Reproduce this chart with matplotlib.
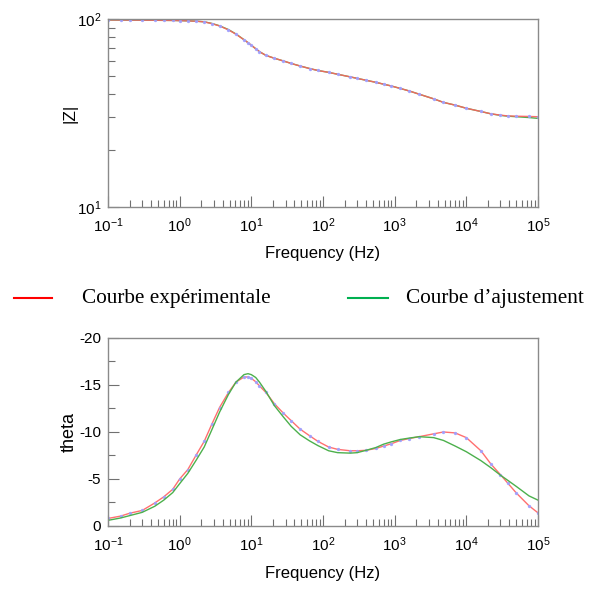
import matplotlib
matplotlib.use('Agg')
from matplotlib import pyplot as plt
from matplotlib.lines import Line2D
from matplotlib.ticker import LogLocator, MultipleLocator, NullFormatter, FormatStrFormatter

plt.rcParams['font.family'] = ['Liberation Sans', 'DejaVu Sans']
plt.rcParams['mathtext.fontset'] = 'custom'
plt.rcParams['mathtext.rm'] = 'Liberation Sans'
plt.rcParams['axes.unicode_minus'] = False

# frequences (Hz)
freq = [0.1, 0.15, 0.2, 0.3, 0.45, 0.6, 0.8, 1, 1.3, 1.7, 2.2, 2.8, 3.6, 4.8, 6.1, 7.9, 9,
        10, 11.5, 13, 16, 21, 28, 36, 48, 65, 85, 120, 160, 240, 300, 400, 550, 700, 900,
        1200, 1600, 2200, 3500, 4800, 7000, 10000, 16000, 22000, 30000, 38000, 50000,
        75000, 100000]

# module |Z|
z_exp = [98.8, 98.7, 98.6, 98.5, 98.4, 98.3, 98.2, 98.0, 97.7, 97.3, 96.5, 94.5, 91.8, 87.5,
         83.0, 77.5, 74.8, 72.5, 69.5, 67.0, 64.0, 61.8, 59.8, 58.0, 56.2, 54.5, 53.2, 52.0,
         50.8, 49.2, 48.3, 47.2, 46.0, 45.0, 44.0, 42.7, 41.4, 39.8, 37.6, 36.0, 34.8, 33.5,
         32.2, 31.3, 30.8, 30.5, 30.4, 30.3, 30.2]
z_fit = [98.8, 98.7, 98.6, 98.5, 98.4, 98.3, 98.2, 98.0, 97.7, 97.3, 96.6, 94.7, 92.0, 87.8,
         83.2, 77.6, 74.8, 72.4, 69.5, 67.0, 64.0, 61.8, 59.8, 58.0, 56.2, 54.5, 53.2, 52.0,
         50.8, 49.2, 48.3, 47.2, 46.0, 45.0, 44.0, 42.7, 41.4, 39.8, 37.6, 36.0, 34.8, 33.5,
         32.2, 31.3, 30.7, 30.4, 30.2, 29.9, 29.6]

# phase theta
th_exp = [-0.8, -1.05, -1.35, -1.65, -2.45, -3.1, -3.9, -5.0, -6.0, -7.55, -9.0, -10.8, -12.6,
          -14.2, -15.3, -15.85, -15.85, -15.7, -15.35, -14.9, -14.2, -13.0, -12.0, -11.2, -10.3,
          -9.6, -9.0, -8.4, -8.15, -8.0, -8.0, -8.05, -8.25, -8.5, -8.75, -9.1, -9.3, -9.5,
          -9.8, -10.0, -9.9, -9.4, -8.0, -6.6, -5.45, -4.55, -3.5, -2.15, -1.4]
th_fit = [-0.6, -0.85, -1.1, -1.45, -2.1, -2.75, -3.55, -4.5, -5.6, -7.0, -8.4, -10.2, -12.1,
          -14.0, -15.3, -16.1, -16.2, -16.1, -15.8, -15.3, -14.3, -12.8, -11.6, -10.6, -9.7,
          -9.05, -8.55, -8.0, -7.8, -7.75, -7.8, -8.05, -8.35, -8.7, -8.95, -9.2, -9.35, -9.5,
          -9.4, -9.1, -8.5, -7.9, -6.95, -6.2, -5.4, -4.85, -4.2, -3.2, -2.75]

fig = plt.figure(figsize=(5.98, 5.89), dpi=100)
ax1 = fig.add_axes([0.1806, 0.6486, 0.719, 0.3192])
ax2 = fig.add_axes([0.1806, 0.107, 0.719, 0.3192])

red = '#ff6060'
green = '#4cb04c'
dots = '#a0a0ff'

ax1.plot(freq, z_fit, color=green, lw=1.0)
ax1.plot(freq, z_exp, color=red, lw=1.0, marker='o', ms=1.4, mfc=dots, mec=dots, alpha=0.9)
ax2.plot(freq, th_exp, color=red, lw=1.0, marker='o', ms=1.4, mfc=dots, mec=dots, alpha=0.9)
ax2.plot(freq, th_fit, color=green, lw=1.0)

for ax in (ax1, ax2):
    ax.set_xscale('log')
    ax.set_xlim(0.1, 1e5)
    ax.xaxis.set_major_locator(LogLocator(base=10, numticks=10))
    ax.xaxis.set_minor_locator(LogLocator(base=10, subs=range(2, 10), numticks=100))
    ax.xaxis.set_minor_formatter(NullFormatter())
    for s in ax.spines.values():
        s.set_color('#8a8a8a')
        s.set_linewidth(1.0)
    ax.tick_params(which='both', direction='in', top=False, right=False,
                   color='#707070', labelsize=11, pad=5)
    ax.tick_params(axis='x', which='both', pad=7)
    ax.tick_params(which='major', length=8, width=0.8)
    ax.tick_params(which='minor', length=5, width=0.8)
    ax.set_xlabel('Frequency (Hz)', fontsize=12)

ax1.set_yscale('log')
ax1.set_ylim(10, 100)
ax1.yaxis.set_minor_formatter(NullFormatter())
ax1.set_ylabel('|Z|', fontsize=12.5)
ax1.xaxis.set_label_coords(0.5, -0.21)
ax1.yaxis.set_label_coords(-0.07, 0.5)

ax2.set_ylim(0, -20)
ax2.yaxis.set_major_locator(MultipleLocator(5))
ax2.yaxis.set_minor_locator(MultipleLocator(2.5))
ax2.yaxis.set_major_formatter(FormatStrFormatter('%d'))
ax2.set_ylabel('theta', fontsize=13)
ax2.xaxis.set_label_coords(0.5, -0.215)
ax2.yaxis.set_label_coords(-0.07, 0.5)

# legende
ly = 1 - 298 / 589
fig.add_artist(Line2D([14 / 598, 52 / 598], [ly, ly], color='#ff0000', lw=1.5))
fig.add_artist(Line2D([348 / 598, 388 / 598], [ly, ly], color='#00b050', lw=1.5))
fig.text(82 / 598, ly, 'Courbe expérimentale', family='Liberation Serif', fontsize=15.3, va='center')
fig.text(406 / 598, ly, 'Courbe d\u2019ajustement', family='Liberation Serif', fontsize=15.3, va='center')

plt.savefig('out.png', dpi=100)
